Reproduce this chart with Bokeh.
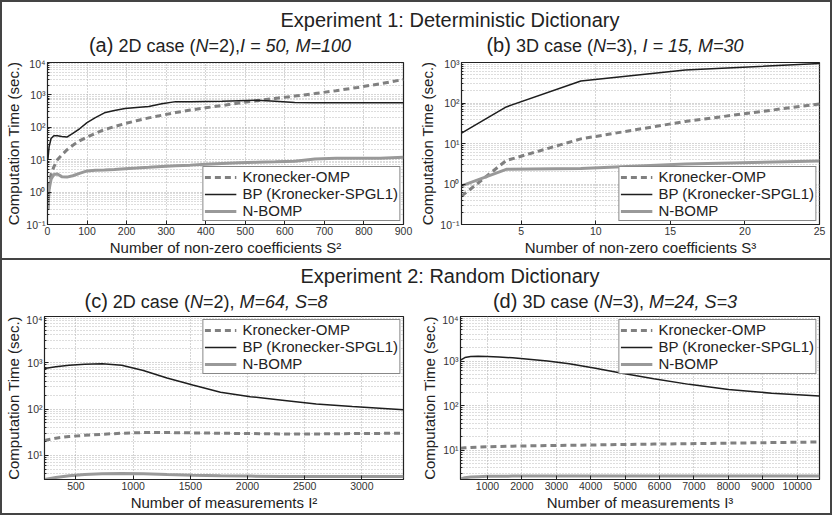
from bokeh.plotting import figure
from bokeh.models import (Div, Spacer, FixedTicker, CustomJSTickFormatter, Range1d, Legend, LegendItem)
from bokeh.layouts import column, row
from bokeh.embed import file_html
from bokeh.resources import INLINE

FONT = "Liberation Sans"

# ---------------- data ----------------
series_names = ["Kronecker-OMP", "BP (Kronecker-SPGL1)", "N-BOMP"]

# (a) 2D deterministic, x = S^2
a_x = [1, 4, 9, 16, 25, 36, 49, 64, 81, 100, 121, 144, 169, 196, 225, 256, 289, 324, 361, 400,
       441, 484, 529, 576, 625, 676, 729, 784, 841, 900]
a_komp = [0.3, 1.5, 3.5, 6, 10, 14, 20, 28, 38, 50, 65, 85, 105, 130, 160, 195, 235, 285, 340, 400,
          470, 560, 660, 780, 920, 1100, 1350, 1700, 2200, 3000]
a_bp = [10, 25, 45, 55, 55, 52, 50, 65, 90, 140, 200, 280, 330, 380, 410, 440, 530, 620, 620, 630,
        640, 660, 680, 640, 580, 570, 570, 570, 570, 570]
a_nbomp = [0.3, 1.2, 2.5, 3.5, 3.6, 3.0, 2.9, 3.2, 3.8, 4.5, 4.7, 4.8, 5.0, 5.3, 5.5, 5.8, 6.2, 6.5, 6.8, 7.2,
           7.6, 8.0, 8.3, 8.6, 9.0, 10.5, 11, 11, 11, 12]

# (b) 3D deterministic
b_x = [1, 4, 9, 16, 25]
b_komp = [0.5, 3.8, 13, 35, 95]
b_bp = [18, 80, 350, 650, 950]
b_nbomp = [0.9, 2.3, 2.4, 3.1, 3.7]

# (c) 2D random, x = I^2
c_x = [225, 324, 441, 576, 729, 900, 1089, 1296, 1521, 1764, 2025, 2304, 2601, 2916, 3364]
c_komp = [21, 23.5, 25.5, 27, 28.5, 30, 31, 31, 30.5, 30, 29.5, 29, 29, 29.5, 30]
c_bp = [750, 820, 880, 930, 950, 880, 680, 470, 330, 230, 185, 155, 128, 113, 97]
c_nbomp = [3.0, 3.3, 3.6, 3.85, 4.0, 4.05, 4.0, 3.85, 3.7, 3.6, 3.55, 3.5, 3.5, 3.5, 3.5]

# (d) 3D random, x = I^3
d_x = [216, 343, 512, 729, 1000, 1331, 1728, 2197, 2744, 3375, 4096, 4913, 5832, 6859, 8000, 9261, 10648]
d_komp = [11, 11.3, 11.5, 11.7, 11.9, 12.1, 12.3, 12.5, 12.7, 12.9, 13.1, 13.4, 13.7, 14.0, 14.4, 14.8, 15.3]
d_bp = [1050, 1200, 1260, 1280, 1260, 1230, 1180, 1100, 1000, 870, 700, 530, 400, 300, 230, 190, 165]
d_nbomp = [2.25, 2.4, 2.5, 2.55, 2.6, 2.6, 2.62, 2.62, 2.62, 2.62, 2.62, 2.62, 2.62, 2.62, 2.62, 2.62, 2.62]

a_xticks = [0, 100, 200, 300, 400, 500, 600, 700, 800, 900]
b_xticks = [5, 10, 15, 20, 25]
c_xticks = [500, 1000, 1500, 2000, 2500, 3000]
d_xticks = [1000, 2000, 3000, 4000, 5000, 6000, 7000, 8000, 9000, 10000]

# ---------------- style ----------------
C_KOMP = "#808080"
C_BP = "#1e1e1e"
C_NB = "#999999"
FRAME = "#444444"

SUP_JS = """
const sup = {"-": "\u207b", "0": "\u2070", "1": "\u00b9", "2": "\u00b2", "3": "\u00b3",
             "4": "\u2074", "5": "\u2075", "6": "\u2076", "7": "\u2077", "8": "\u2078", "9": "\u2079"};
const e = Math.round(Math.log10(tick));
return "10" + String(e).split("").map(c => sup[c]).join("");
"""


def log_ticks(lo_exp, hi_exp):
    major = [10.0 ** e for e in range(lo_exp, hi_exp + 1)]
    minor = [k * 10.0 ** e for e in range(lo_exp - 1, hi_exp + 1) for k in range(2, 10)]
    return major, minor


def panel(x, komp, bp, nb, xr, yr, xticks, ydec, xlabel, w, h, bl, br, bt, bb, legend_loc):
    p = figure(width=w, height=h, x_range=Range1d(*xr), y_range=Range1d(*yr), y_axis_type="log",
               output_backend="svg", toolbar_location=None, title=None,
               min_border_left=bl, min_border_right=br, min_border_top=bt, min_border_bottom=bb,
               background_fill_color="white", border_fill_color="white")
    r1 = p.line(x, komp, line_color=C_KOMP, line_width=3, line_dash="6 4")
    r2 = p.line(x, bp, line_color=C_BP, line_width=1.5)
    r3 = p.line(x, nb, line_color=C_NB, line_width=3)

    major, minor = log_ticks(*ydec)
    yt = FixedTicker(ticks=major, minor_ticks=minor)
    p.yaxis.ticker = yt
    p.ygrid.ticker = yt
    p.yaxis.formatter = CustomJSTickFormatter(code=SUP_JS)
    xt = FixedTicker(ticks=xticks)
    p.xaxis.ticker = xt
    p.xgrid.ticker = xt

    for g in (p.xgrid, p.ygrid):
        g.grid_line_color = "#aaaaaa"
        g.grid_line_dash = "1 2"
        g.grid_line_width = 1
    p.ygrid.minor_grid_line_color = "#bbbbbb"
    p.ygrid.minor_grid_line_dash = "1 2"

    p.outline_line_color = "#222222"
    p.outline_line_width = 1.2
    for ax in (p.xaxis, p.yaxis):
        ax.axis_line_color = "#222222"
        ax.major_tick_in = 4
        ax.major_tick_out = 0
        ax.minor_tick_in = 2
        ax.minor_tick_out = 0
        ax.major_tick_line_color = "#222222"
        ax.minor_tick_line_color = "#222222"
        ax.major_label_text_font = FONT
        ax.major_label_text_font_size = "10.5px"
        ax.major_label_text_color = "#333333"
        ax.axis_label_text_font = FONT
        ax.axis_label_text_font_style = "normal"
        ax.axis_label_text_font_size = "15px"
        ax.axis_label_text_color = "#222222"
        ax.major_label_standoff = 2
        ax.axis_label_standoff = 1
    p.xaxis.major_label_standoff = 2
    p.xaxis.axis_label_standoff = 1
    p.xaxis.minor_tick_line_color = None
    p.xaxis.axis_label = xlabel
    p.yaxis.axis_label = "Computation Time (sec.)"
    p.yaxis.axis_label_text_font_size = "15px"

    leg = Legend(items=[LegendItem(label=series_names[0], renderers=[r1]),
                        LegendItem(label=series_names[1], renderers=[r2]),
                        LegendItem(label=series_names[2], renderers=[r3])],
                 location=legend_loc)
    leg.border_line_color = "#111111"
    leg.border_line_width = 1.2
    leg.background_fill_color = "white"
    leg.background_fill_alpha = 1
    leg.label_text_font = FONT
    leg.label_text_font_size = "15px"
    leg.label_text_color = "#222222"
    leg.label_text_line_height = 1.0
    leg.glyph_width = 32
    leg.glyph_height = 10
    leg.label_standoff = 6
    leg.label_height = 12
    leg.padding = 1
    leg.spacing = -1
    leg.margin = 3
    p.add_layout(leg)
    return p


pa = panel(a_x, a_komp, a_bp, a_nbomp, (0, 900), (0.1, 1e4), a_xticks, (-1, 4),
           "Number of non-zero coefficients S\u00b2", 414, 201, 41, 13, 5, 34, "bottom_right")
pb = panel(b_x, b_komp, b_bp, b_nbomp, (1, 25), (0.1, 1e3), b_xticks, (-1, 3),
           "Number of non-zero coefficients S\u00b3", 414, 201, 44, 11, 5, 34, "bottom_right")
pc = panel(c_x, c_komp, c_bp, c_nbomp, (225, 3364), (3, 1e4), c_xticks, (1, 4),
           "Number of measurements I\u00b2", 414, 200, 41, 13, 3, 32, "top_right")
pd = panel(d_x, d_komp, d_bp, d_nbomp, (216, 10648), (2.2, 1e4), d_xticks, (1, 4),
           "Number of measurements I\u00b3", 414, 200, 44, 11, 3, 32, "top_right")


def title_div(html, w, h, size):
    return Div(text=html, width=w, height=h, margin=0,
               styles={"font-family": FONT, "font-size": size, "text-align": "center",
                       "line-height": f"{h}px", "color": "#222222", "white-space": "nowrap"})


def bar(w, h):
    return Div(text="", width=w, height=h, margin=0, styles={"background-color": FRAME})


def centered(html, left_pad, w, total, h, size):
    kids = []
    if left_pad > 0:
        kids.append(Spacer(width=left_pad, height=h, margin=0))
    kids.append(title_div(html, w, h, size))
    rest = total - left_pad - w
    if rest > 0:
        kids.append(Spacer(width=rest, height=h, margin=0))
    return row(*kids, spacing=0)


big = '<span style="font-size:20px">%s</span>'
ta = big % "(a)" + ' 2D case (<i>N</i>=2),<i>I = 50, M=100</i>'
tb = big % "(b)" + ' 3D case (<i>N</i>=3), <i>I = 15, M=30</i>'
tc = big % "(c)" + ' 2D case (<i>N</i>=2), <i>M=64, S=8</i>'
td = big % "(d)" + ' 3D case (<i>N</i>=3), <i>M=24, S=3</i>'

TS = "18px"
ES = "20px"
top = column(
    Spacer(width=828, height=5, margin=0),
    centered("Experiment 1: Deterministic Dictionary", 68, 760, 828, 26, ES),
    row(centered(ta, 22, 392, 414, 24, TS), centered(tb, 0, 398, 414, 24, TS), spacing=0),
    row(pa, pb, spacing=0),
    spacing=0,
)
bottom = column(
    Spacer(width=828, height=3, margin=0),
    centered("Experiment 2: Random Dictionary", 68, 760, 828, 26, ES),
    row(centered(tc, 0, 408, 414, 24, TS), centered(td, 0, 398, 414, 24, TS), spacing=0),
    row(pc, pd, spacing=0),
    spacing=0,
)
inner = column(bar(828, 2), top, bar(828, 2), bottom, bar(828, 2), spacing=0)
page = row(bar(2, 515), inner, bar(2, 515), spacing=0)

open("out.html", "w").write(file_html(page, INLINE))
